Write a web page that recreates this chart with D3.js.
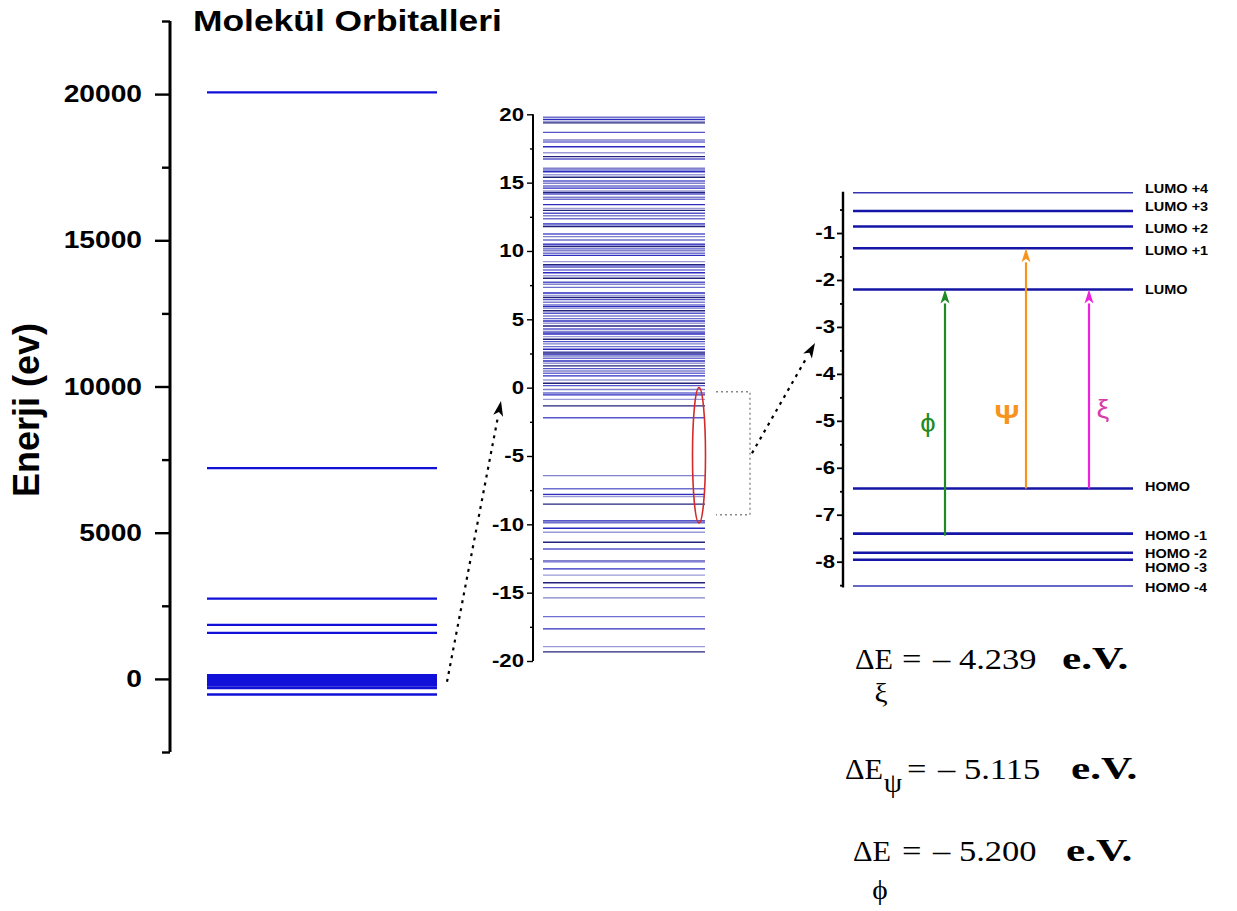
<!DOCTYPE html>
<html><head><meta charset="utf-8">
<script src="https://cdn.jsdelivr.net/npm/d3@7"></script>
<style>body{margin:0;background:#fff} svg{display:block}</style>
</head><body>
<svg id="c" width="1237" height="911"></svg>
<script>
// ---------------- data ----------------
const leftLevels = [20060, 7210, 2745, 1846, 1573,
  130, 100, 70, 40, 10, -20, -50, -80, -110, -140, -170, -200, -225, -310, -535];
const leftMajorTicks = [0, 5000, 10000, 15000, 20000];
const leftMinorTicks = [-2500, 2500, 7500, 12500, 17500, 22500];

const midLevels = [19.78, 19.63, 19.49, 19.37, 18.68, 18.12, 17.97, 17.63, 17.19, 16.9, 16.73,
  16.05, 15.93, 15.8, 15.58, 15.39, 15.12, 14.95, 14.75, 14.6, 14.4, 14.28, 14.17, 13.93, 13.78,
  13.39, 13.12, 12.97, 12.76, 12.58, 12.36, 11.97, 11.88, 11.78, 11.24, 11.05, 10.8, 10.49, 10.4,
  10.32, 10.15, 10.02, 9.83, 9.68, 9.22, 9.0, 8.9, 8.81, 8.61, 8.41, 8.19, 8.0, 7.71, 7.56, 7.34,
  6.92, 6.74, 6.6, 6.44, 6.25, 6.05, 5.93, 5.81, 5.63, 5.44, 5.24, 5.05, 4.88, 4.71, 4.51, 4.29,
  4.12, 4.02, 3.93, 3.73, 3.54, 3.37, 3.2, 3.0, 2.81, 2.63, 2.53, 2.42, 2.32, 2.15, 1.95, 1.78,
  1.59, 1.39, 1.22, 1.05, 0.86, 0.56, 0.32, 0.15, -0.14, -0.39, -0.53, -0.86, -1.33, -2.2,
  -6.44, -7.4, -7.81, -7.96, -8.52, -9.73, -9.8, -9.88, -10.29, -10.58, -11.31, -11.8, -12.66,
  -12.75, -13.26, -13.72, -14.27, -14.63, -15.38, -16.75, -17.65, -18.95, -19.33];
const midMajorTicks = [-20, -15, -10, -5, 0, 5, 10, 15, 20];
const midMinorTicks = [-17.5, -12.5, -7.5, -2.5, 2.5, 7.5, 12.5, 17.5];

const orbitalNames = ['LUMO +4', 'LUMO +3', 'LUMO +2', 'LUMO +1', 'LUMO',
  'HOMO', 'HOMO -1', 'HOMO -2', 'HOMO -3', 'HOMO -4'];
const orbitalEnergies = [-0.14, -0.53, -0.86, -1.326, -2.202, -6.441, -7.402, -7.81, -7.96, -8.52];
const rightMajorTicks = [-1, -2, -3, -4, -5, -6, -7, -8];
const rightMinorTicks = [-0.5, -1.5, -2.5, -3.5, -4.5, -5.5, -6.5, -7.5, -8.5];

const transitionSymbols = ['ϕ', 'Ψ', 'ξ'];
const transitionFrom = ['HOMO -1', 'HOMO', 'HOMO'];
const transitionTo = ['LUMO', 'LUMO +1', 'LUMO'];

const gapSymbols = ['ξ', 'ψ', 'ϕ'];
const gapValues = ['4.239', '5.115', '5.200'];

// ---------------- setup ----------------
const svg = d3.select('#c');
const SX = 1.2; // horizontal text stretch of the reference
const SANS = "'Liberation Sans', Arial, sans-serif";
const SERIF = "'Liberation Serif', 'Times New Roman', serif";
const fmtTick = d => String(d);

function txt(parent, x, y, s, o = {}) {
  const t = parent.append('text')
    .attr('transform', `translate(${x},${y}) scale(${o.len ? 1 : (o.sx || SX)},1)`)
    .attr('text-anchor', o.anchor || 'start')
    .attr('dominant-baseline', o.baseline || 'auto')
    .attr('font-family', o.family || SANS)
    .attr('font-weight', o.weight || 'bold')
    .attr('font-size', o.size || 16)
    .attr('fill', o.fill || '#000')
    .text(s);
  if (o.len) t.attr('textLength', o.len).attr('lengthAdjust', o.adjust || 'spacingAndGlyphs');
  return t;
}
function stretchAxisText(g, size) {
  g.selectAll('text').each(function () {
    const t = d3.select(this);
    const x = +t.attr('x');
    t.attr('x', x / SX).attr('transform', `scale(${SX},1)`)
     .attr('font-size', size).attr('font-weight', 'bold')
     .attr('font-family', SANS).attr('fill', '#000');
  });
}
function drawAxis(x, scale, major, minor, majorLen, minorLen, pad, fs, sw) {
  const gMin = svg.append('g').attr('transform', `translate(${x},0)`)
    .call(d3.axisLeft(scale).tickValues(minor).tickSize(minorLen).tickFormat(''));
  const gMaj = svg.append('g').attr('transform', `translate(${x},0)`)
    .call(d3.axisLeft(scale).tickValues(major).tickSize(majorLen).tickPadding(pad).tickFormat(fmtTick));
  [gMin, gMaj].forEach(g => {
    g.select('.domain').remove();
    g.selectAll('line').attr('stroke', '#000').attr('stroke-width', sw);
  });
  const r = scale.range();
  svg.append('line').attr('x1', x).attr('x2', x).attr('y1', r[0]).attr('y2', r[1])
    .attr('stroke', '#000').attr('stroke-width', sw + 0.6);
  stretchAxisText(gMaj, fs);
}
function arrow(g, x1, y1, x2, y2, color, w, dash, hl, hw) {
  const a = Math.atan2(y2 - y1, x2 - x1);
  const bx = x2 - hl * Math.cos(a), by = y2 - hl * Math.sin(a);
  const px = -Math.sin(a), py = Math.cos(a);
  g.append('line').attr('x1', x1).attr('y1', y1).attr('x2', bx).attr('y2', by)
    .attr('stroke', color).attr('stroke-width', w).attr('stroke-dasharray', dash || null);
  g.append('path').attr('d', `M${x2},${y2}L${bx + px * hw / 2},${by + py * hw / 2}` +
    `L${x2 - hl * 0.75 * Math.cos(a)},${y2 - hl * 0.75 * Math.sin(a)}` +
    `L${bx - px * hw / 2},${by - py * hw / 2}Z`).attr('fill', color);
}

// ---------------- left panel ----------------
const yL = d3.scaleLinear().domain([-2500, 22500]).range([752, 21]);
const xL = d3.scaleLinear().domain([0, 1]).range([207, 437]);
drawAxis(170, yL, leftMajorTicks, leftMinorTicks, 15, 8, 13, 23.5, 2.4);
svg.append('g').selectAll('line').data(leftLevels).join('line')
  .attr('x1', xL(0)).attr('x2', xL(1))
  .attr('y1', d => yL(d)).attr('y2', d => yL(d))
  .attr('stroke', '#1010d8').attr('stroke-width', 2.4);

txt(svg, 193, 31, 'Molekül Orbitalleri', { size: 29.5 });
svg.append('text')
  .attr('transform', `translate(39,410) rotate(-90)`)
  .attr('text-anchor', 'middle')
  .attr('font-family', SANS).attr('font-weight', 'bold').attr('font-size', 36)
  .text('Enerji (ev)');

// ---------------- middle panel ----------------
const yM = d3.scaleLinear().domain([-20, 20]).range([661, 114.3]);
const xM = d3.scaleLinear().domain([0, 1]).range([543, 705]);
drawAxis(533, yM, midMajorTicks, midMinorTicks, 6, 3, 3, 18.5, 1.4);
const tones = ['#6e6ed0', '#2c2cc0', '#9a9ad8', '#23237c', '#5656cc', '#8080cc'];
svg.append('g').selectAll('line').data(midLevels).join('line')
  .attr('x1', xM(0)).attr('x2', xM(1))
  .attr('y1', d => yM(d)).attr('y2', d => yM(d))
  .attr('stroke', (d, i) => tones[i % tones.length]).attr('stroke-width', 1.4);

// highlight ellipse and bracket
const ellTop = yM(0), ellBot = yM(-9.9);
svg.append('ellipse').attr('cx', 699).attr('cy', (ellTop + ellBot) / 2)
  .attr('rx', 6.5).attr('ry', (ellBot - ellTop) / 2)
  .attr('fill', 'none').attr('stroke', '#d42a2a').attr('stroke-width', 1.6);
svg.append('path')
  .attr('d', `M716,${yM(-0.3)}H750V${yM(-9.3)}H716`)
  .attr('fill', 'none').attr('stroke', '#888').attr('stroke-width', 1.4)
  .attr('stroke-dasharray', '2,3');

// ---------------- right panel ----------------
const yR = d3.scaleLinear().domain([-8.55, -0.12]).range([587.5, 191.7]);
const xR = d3.scaleLinear().domain([0, 1]).range([853, 1133]);
drawAxis(843, yR, rightMajorTicks, rightMinorTicks, 6, 3, 2, 18.5, 1.8);
const thin = new Set(['LUMO +4', 'HOMO -4']);
svg.append('g').selectAll('line').data(orbitalEnergies).join('line')
  .attr('x1', xR(0)).attr('x2', xR(1))
  .attr('y1', d => yR(d)).attr('y2', d => yR(d))
  .attr('stroke', (d, i) => thin.has(orbitalNames[i]) ? '#3434b4' : '#1414a6')
  .attr('stroke-width', (d, i) => thin.has(orbitalNames[i]) ? 1.5 : 2.6);
const labelShift = { 'LUMO +4': -3, 'LUMO +3': -3, 'LUMO +2': 3, 'LUMO +1': 3, 'LUMO': 1,
  'HOMO': -1, 'HOMO -1': 3, 'HOMO -2': 2, 'HOMO -3': 9, 'HOMO -4': 3 };
orbitalNames.forEach((n, i) => {
  txt(svg, 1145, yR(orbitalEnergies[i]) + labelShift[n], n,
    { size: 12.5, baseline: 'middle', sx: 1.16 });
});

// transitions
const eOf = n => orbitalEnergies[orbitalNames.indexOf(n)];
const trColors = ['#1f8a24', '#f7941d', '#ee22dd'];
const trLabelColors = ['#1f8a24', '#f7941d', '#d83aa8'];
const trX = [945, 1026, 1089];
const trLabelX = [928, 1007, 1103];
const trLabelAt = [-5.1, -4.9, -4.8];
const trLabelSize = [25, 28, 26];
const gT = svg.append('g');
transitionSymbols.forEach((s, i) => {
  const y0 = yR(eOf(transitionFrom[i])), y1 = yR(eOf(transitionTo[i]));
  arrow(gT, trX[i], y0 + (i === 0 ? 2 : 0), trX[i], y1, trColors[i], 2.2, null, 14, 9);
  txt(gT, trLabelX[i], yR(trLabelAt[i]), s,
    { size: trLabelSize[i], anchor: 'middle', baseline: 'middle', fill: trLabelColors[i],
      weight: i === 1 ? 'bold' : 'normal', sx: 1.1 });
});

// zoom arrows
const gA = svg.append('g');
arrow(gA, 447, yL(-100), 501, 401, '#000', 2.2, '3,5', 15, 10);
arrow(gA, 752, (yM(-0.3) + yM(-9.3)) / 2, 815, 343, '#000', 2.2, '3,5', 15, 10);

// ---------------- energy gap equations ----------------
const eqBase = [669, 779, 861];
const eqDX = [855, 845, 853];
const subPos = [[881, 702], [893, 792], [880, 899]];
const eqEqX = [902, 907, 902];
const eqUnitX = [1062, 1071, 1066];
gapSymbols.forEach((s, i) => {
  const o = { family: SERIF, weight: 'normal', size: 30, sx: 1.15 };
  txt(svg, eqDX[i], eqBase[i], 'ΔE', Object.assign({}, o, { size: 29, len: 38 }));
  txt(svg, subPos[i][0], subPos[i][1], s, Object.assign({}, o, { anchor: 'middle', size: 28, sx: 1.05 }));
  txt(svg, eqEqX[i], eqBase[i], '=', o);
  txt(svg, eqEqX[i] + 31, eqBase[i], '–', o);
  txt(svg, eqEqX[i] + 57, eqBase[i], gapValues[i], o);
  txt(svg, eqUnitX[i], eqBase[i], 'e.V.', Object.assign({}, o, { weight: 'bold', size: 32, sx: 1.35 }));
});
</script>
</body></html>
